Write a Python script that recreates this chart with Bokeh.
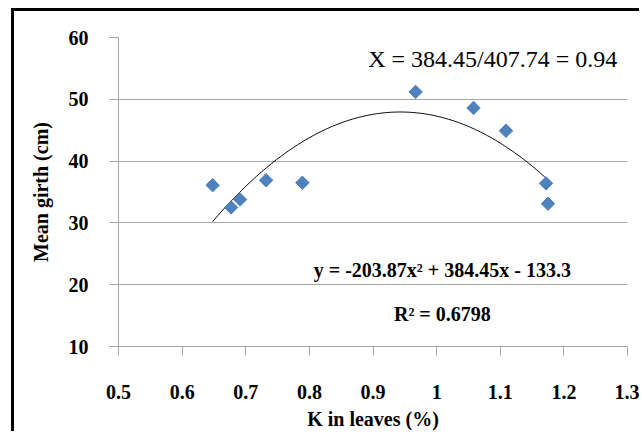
import numpy as np
from bokeh.plotting import figure
from bokeh.models import Range1d, Label, FixedTicker
from bokeh.embed import file_html
from bokeh.resources import INLINE

k_leaves = [0.648, 0.677, 0.691, 0.732, 0.789, 0.967, 1.058, 1.109, 1.172, 1.175]
mean_girth = [36.1, 32.5, 33.8, 36.9, 36.5, 51.2, 48.6, 44.9, 36.4, 33.1]
poly_coef = [-203.87, 384.45, -133.3]
x_ticks = [0.5, 0.6, 0.7, 0.8, 0.9, 1.0, 1.1, 1.2, 1.3]
y_ticks = [10, 20, 30, 40, 50, 60]
x_tick_labels = {0.5: "0.5", 0.6: "0.6", 0.7: "0.7", 0.8: "0.8", 0.9: "0.9",
                 1.0: "1", 1.1: "1.1", 1.2: "1.2", 1.3: "1.3"}

SERIF = "Liberation Serif"
GRID = "#a6a6a6"

# border offset (left 11px + 3px border, top 8px + 3px border)
OFF_L, OFF_T = 14, 11

p = figure(width=642 - OFF_L, height=434 - OFF_T, output_backend="svg", toolbar_location=None,
           x_range=Range1d(0.5, 1.3), y_range=Range1d(10, 60),
           min_border_left=118 - OFF_L, min_border_right=15, min_border_top=37 - OFF_T,
           min_border_bottom=88)
p.styles = {"margin-left": "11px", "margin-top": "8px",
            "border-left": "3px solid black", "border-top": "3px solid black"}
p.outline_line_color = None
p.background_fill_color = "white"
p.border_fill_color = "white"

p.xgrid.grid_line_color = None
p.ygrid.grid_line_color = GRID
p.ygrid.grid_line_width = 1
p.yaxis.ticker = FixedTicker(ticks=y_ticks)
p.xaxis.ticker = FixedTicker(ticks=x_ticks)
p.xaxis.major_label_overrides = x_tick_labels

for ax in (p.xaxis[0], p.yaxis[0]):
    ax.axis_line_color = GRID
    ax.major_tick_line_color = GRID
    ax.minor_tick_line_color = None
    ax.major_tick_out = 9
    ax.major_tick_in = 0
    ax.major_label_text_font = SERIF
    ax.major_label_text_font_style = "bold"
    ax.major_label_text_font_size = "20px"
    ax.major_label_text_color = "black"
    ax.axis_label_text_font = SERIF
    ax.axis_label_text_font_style = "bold"
    ax.axis_label_text_font_size = "20px"
    ax.axis_label_text_color = "black"

p.xaxis.axis_label = "K in leaves (%)"
p.yaxis.axis_label = "Mean girth (cm)"
p.xaxis.major_label_standoff = 29
p.xaxis.axis_label_standoff = 6
p.yaxis.major_label_standoff = 21
p.yaxis.axis_label_standoff = 14

xs = np.linspace(min(k_leaves), max(k_leaves), 200)
ys = np.polyval(poly_coef, xs)
p.line(xs, ys, line_color="black", line_width=1)

p.scatter(k_leaves, mean_girth, marker="square", angle=np.pi / 4, size=9.5,
          fill_color="#4f81bd", line_color="#4f81bd")

p.add_layout(Label(x=1.284, y=56.6,
                   text="X = 384.45/407.74 = 0.94", text_font=SERIF,
                   text_font_size="24px", text_align="right", text_baseline="middle",
                   text_color="black"))
p.add_layout(Label(x=1.009, y=22.45,
                   text="y = -203.87x² + 384.45x - 133.3", text_font=SERIF,
                   text_font_style="bold",
                   text_font_size="20px", text_align="center", text_baseline="middle",
                   text_color="black"))
p.add_layout(Label(x=1.009, y=15.3,
                   text="R² = 0.6798", text_font=SERIF, text_font_style="bold",
                   text_font_size="20px", text_align="center", text_baseline="middle",
                   text_color="black"))

open("out.html", "w").write(file_html(p, INLINE))
